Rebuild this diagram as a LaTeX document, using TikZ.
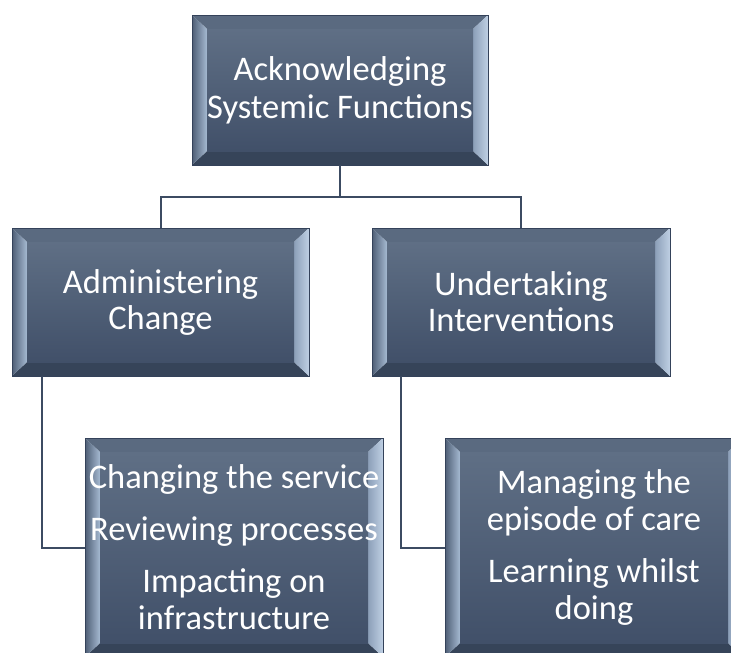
\documentclass[tikz,border=0pt]{standalone}
\usepackage{fontspec}
\setmainfont{Carlito}
\usetikzlibrary{calc}
\definecolor{faceTop}{HTML}{5F6F85}
\definecolor{faceBot}{HTML}{415069}
\definecolor{bevTop}{HTML}{5A6A80}
\definecolor{bevBot}{HTML}{364459}
\definecolor{bevLout}{HTML}{4E5E75}
\definecolor{bevLin}{HTML}{A6BAD2}
\definecolor{bevRin}{HTML}{8C9FB8}
\definecolor{bevRout}{HTML}{BFD0E4}
\definecolor{edgeC}{HTML}{34425A}
\definecolor{connC}{HTML}{3C4B62}
\tikzset{
  bev/.style={rectangle, inner sep=0pt, text=white, align=center,
    font=\fontsize{34.5}{37}\selectfont, draw=edgeC, line width=0.8pt,
    path picture={
      \path (path picture bounding box.north west) coordinate (pA)
            (path picture bounding box.north east) coordinate (pB)
            (path picture bounding box.south east) coordinate (pC)
            (path picture bounding box.south west) coordinate (pD);
      \path ($(pA)+(15pt,-14pt)$) coordinate (qA)
            ($(pB)+(-15pt,-14pt)$) coordinate (qB)
            ($(pC)+(-15pt,14pt)$) coordinate (qC)
            ($(pD)+(15pt,14pt)$) coordinate (qD);
      \fill[bevTop] (pA)--(pB)--(qB)--(qA)--cycle;
      \fill[bevBot] (pD)--(qD)--(qC)--(pC)--cycle;
      \shade[left color=bevLout, right color=bevLin] (pA)--(qA)--(qD)--(pD)--cycle;
      \shade[left color=bevRin, right color=bevRout] (pB)--(pC)--(qC)--(qB)--cycle;
      \shade[top color=faceTop, bottom color=faceBot] (qA) rectangle (qC);
    }},
  conn/.style={draw=connC, line width=2pt}
}
\begin{document}
\begin{tikzpicture}[x=1pt, y=-1pt]
\path[use as bounding box] (0,0) rectangle (731,653);
\clip (0,0) rectangle (731,653);
\node[bev, minimum width=296pt, minimum height=150pt, font=\fontsize{34.5}{38}\selectfont] (top) at (340,90) {Acknowledging\\Systemic Functions};
\node[bev, minimum width=297pt, minimum height=148pt, font=\fontsize{34.5}{36}\selectfont] (L) at (160.5,302) {Administering\\Change};
\node[bev, minimum width=298pt, minimum height=148pt, font=\fontsize{34.5}{36}\selectfont] (R) at (521,302) {Undertaking\\Interventions};
\node[bev, minimum width=298pt, minimum height=219pt] (BL) at (234,547.5) {Changing the service\\[15pt]Reviewing processes\\[15pt]Impacting on\\infrastructure};
\node[bev, minimum width=298pt, minimum height=219pt] (BR) at (594,547.5) {Managing the\\episode of care\\[15pt]Learning whilst\\doing};
\draw[conn] (top.south) -- ++(0,32) -| (L.north);
\draw[conn] (top.south) -- ++(0,32) -| (R.north);
\draw[conn] ([xshift=30pt]L.south west) |- (BL.west);
\draw[conn] ([xshift=29pt]R.south west) |- (BR.west);
\end{tikzpicture}
\end{document}
